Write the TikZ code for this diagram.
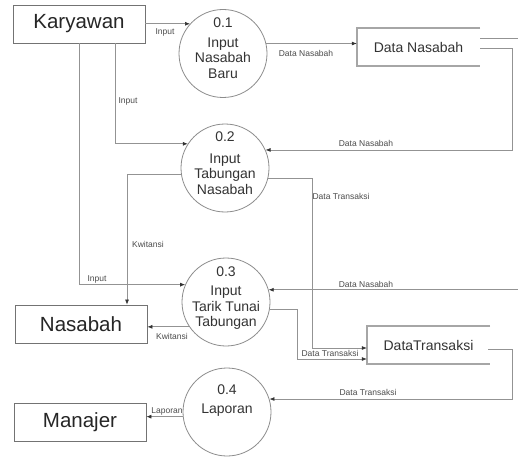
\documentclass[tikz,border=0pt]{standalone}
\usepackage{fontspec}
\setmainfont{Liberation Sans}
\usetikzlibrary{arrows.meta,calc}
\begin{document}
\begin{tikzpicture}[x=1pt,y=-1pt,
 ent/.style={draw=gray!90!black, line width=0.8pt, minimum width=132pt, minimum height=38pt, inner sep=0pt, font=\fontsize{20.5}{24}\selectfont, text=black!85},
 proc/.style={circle, draw=gray!90, line width=0.8pt, minimum size=88pt, inner sep=0pt},
 ptxt/.style={font=\fontsize{14}{15.5}\selectfont, align=center, text=black!80, inner sep=0pt},
 store/.style={minimum width=123pt, minimum height=37pt, inner sep=0pt, font=\fontsize{14}{16}\selectfont, text=black!80},
 storeline/.style={draw=gray!70, line width=1.8pt},
 plain/.style={draw=gray!85, line width=0.7pt},
 flow/.style={plain, -{Latex[length=5pt,width=4pt,color=black!80]}},
 lbl/.style={font=\fontsize{8.5}{10}\selectfont, text=black!70, inner sep=0pt}
]
\useasboundingbox[fill=white] (0,0) rectangle (518,457);

% entities
\node[ent] (kar) at (79,24) {Karyawan};
\node[ent] (nas) at (81,324) {Nasabah};
\node[ent] (man) at (80,422.5) {Manajer};

% processes
\node[proc] (p1) at (223,53.5) {};
\node[proc] (p2) at (225,168) {};
\node[proc] (p3) at (226,302) {};
\node[proc] (p4) at (227,412) {};
\node[ptxt] (p1n) at (223,22.5) {0.1};
\node[ptxt] (p1t) at (223,58) {Input\\Nasabah\\Baru};
\node[ptxt] (p2n) at (225,137) {0.2};
\node[ptxt] (p2t) at (225,174) {Input\\Tabungan\\Nasabah};
\node[ptxt] (p3n) at (226,272) {0.3};
\node[ptxt] (p3t) at (226,308) {Input\\Tarik Tunai\\Tabungan};
\node[ptxt] (p4n) at (227,390) {0.4};
\node[ptxt] (p4t) at (227,410) {Laporan};

% data stores
\node[store] (dn) at (418.5,47) {Data Nasabah};
\node[store] (dt) at (428.5,345) {DataTransaksi};
\draw[storeline] (dn.north east) -- (dn.north west) -- (dn.south west) -- (dn.south east);
\draw[storeline] (dt.north east) -- (dt.north west) -- (dt.south west) -- (dt.south east);

% helper coordinates
\coordinate (r1) at (512,0);
\coordinate (edge) at (518,0);
\coordinate (dnA) at (480,38);
\coordinate (dnB) at (480,48);
\coordinate (dtO) at (488,349);
\coordinate (c2) at (312,0);
\coordinate (c3) at (297,0);
\coordinate (c4) at (115,0);
\coordinate (c5) at (127,0);
\coordinate (yA) at (0,348);
\coordinate (yB) at (0,359);

% flows
\draw[flow] (kar.east |- p1.138) -- (p1.138);
\draw[flow] (p1.13) -- (p1.13 -| dn.west);
\draw[flow] (dnB) -- (dnB -| r1) -- (r1 |- p2.24) -- (p2.24);
\draw[plain] (dnA) -- (dnA -| edge);
\draw[flow] (edge |- p3.16) -- (p3.16);
\draw[flow] (p2.347) -- (p2.347 -| c2) -- (c2 |- yA) -- (dt.west |- yA);
\draw[flow] (p3.350) -- (p3.350 -| c3) -- (c3 |- yB) -- (dt.west |- yB);
\draw[flow] (dtO) -- (dtO -| r1) -- (r1 |- p4.17) -- (p4.17);
\draw[flow] (c4 |- kar.south) -- (c4 |- p2.147) -- (p2.147);
\draw[flow] (kar.south) -- (kar.south |- p3.157) -- (p3.157);
\draw[flow] (p2.188) -- (p2.188 -| c5) -- (c5 |- nas.north);
\draw[flow] (p3.214) -- (p3.214 -| nas.east);
\draw[flow] (p4.186) -- (p4.186 -| man.east);

% labels
\node[lbl] (l1) at (165,32) {Input};
\node[lbl] (l2) at (128,101) {Input};
\node[lbl] (l3) at (97,279) {Input};
\node[lbl] (l4) at (306,53) {Data Nasabah};
\node[lbl] (l5) at (366,143) {Data Nasabah};
\node[lbl] (l6) at (366,284) {Data Nasabah};
\node[lbl] (l7) at (341,196) {Data Transaksi};
\node[lbl] (l8) at (330,353) {Data Transaksi};
\node[lbl] (l9) at (368,392) {Data Transaksi};
\node[lbl] (l10) at (148,244) {Kwitansi};
\node[lbl] (l11) at (172,336) {Kwitansi};
\node[lbl] (l12) at (167,411) {Laporan};
\end{tikzpicture}
\end{document}
